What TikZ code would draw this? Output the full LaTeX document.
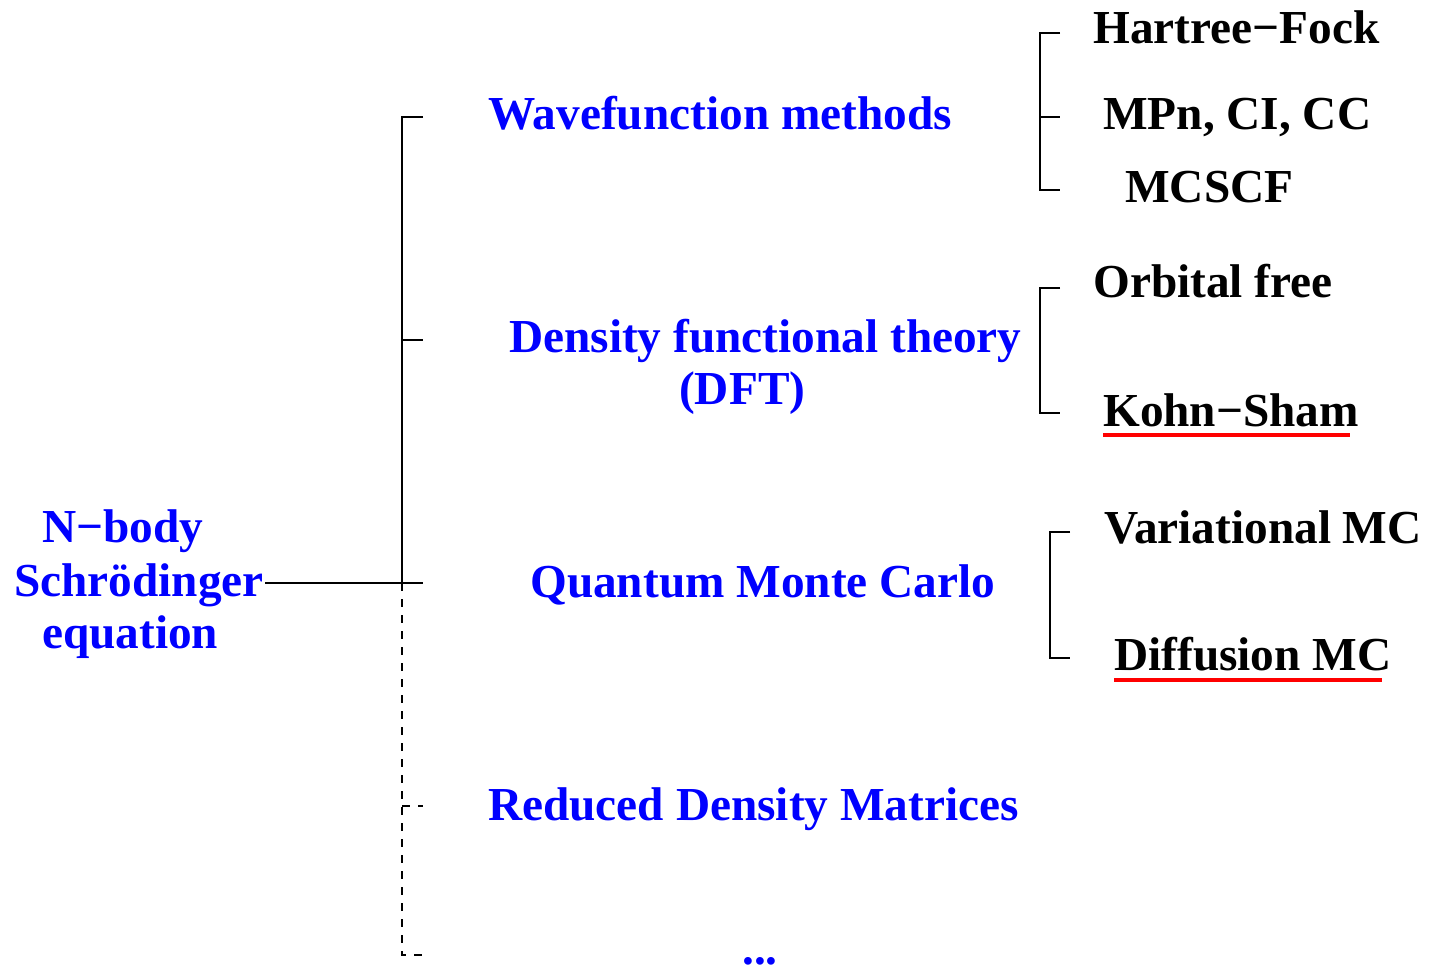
\documentclass[tikz,border=0pt]{standalone}
\usepackage{fontspec}
\setmainfont{Liberation Serif}
\begin{document}
\begin{tikzpicture}[x=1pt,y=-1pt,
  txt/.style={font=\fontsize{47.3}{47.3}\selectfont\bfseries, anchor=base west, inner sep=0pt},
  bl/.style={txt, text=blue},
  bk/.style={txt, text=black},
  ln/.style={line width=1.1pt, black},
  dl/.style={line width=1.1pt, black, dash pattern=on 8pt off 8pt},
  ul/.style={red, line width=3.5pt}]
\useasboundingbox (0,0) rectangle (1429,968);
% left text
\node[bl] (nb) at (42,542) {N−body};
\node[bl] (sch) at (14,596) {Schrödinger};
\node[bl] (eq) at (42,648) {equation};
% middle texts
\node[bl] (wf) at (488,130) {Wavefunction methods};
\node[bl] (dft) at (509,352) {Density functional theory};
\node[bl] (dft2) at (679,404) {(DFT)};
\node[bl] (qmc) at (530,597) {Quantum Monte Carlo};
\node[bl] (rdm) at (488,820) {Reduced Density Matrices};
\node[bl] (dots) at (742,964) {...};
% right texts
\node[bk] (hf) at (1093,44) {Hartree−Fock};
\node[bk] (mp) at (1103,130) {MPn, CI, CC};
\node[bk] (mc) at (1125,203) {MCSCF};
\node[bk] (of) at (1093,298) {Orbital free};
\node[bk] (ks) at (1103,426) {Kohn−Sham};
\node[bk] (vmc) at (1104,543) {Variational MC};
\node[bk] (dmc) at (1114,670) {Diffusion MC};
% underlines
\draw[ul] ([yshift=-9pt]ks.base west) -- ([xshift=-9pt,yshift=-9pt]ks.base east);
\draw[ul] ([yshift=-10pt]dmc.base west) -- ([xshift=-10pt,yshift=-10pt]dmc.base east);
% main tree
\coordinate (s0) at (265,583);
\coordinate (m1) at (402,117); \coordinate (e1) at (423,117);
\coordinate (m2) at (402,340); \coordinate (e2) at (423,340);
\coordinate (m3) at (402,583); \coordinate (e3) at (423,583);
\coordinate (m4) at (402,806); \coordinate (e4) at (423,806);
\coordinate (m5) at (402,955); \coordinate (e5) at (423,955);
\draw[ln] (s0) -- (e3);
\draw[ln] (e1) -- (m1) -- (m3);
\draw[ln] (m2) -- (e2);
\draw[dl] (m3) -- (m5) -- (e5);
\draw[dl] (m4) -- (e4);
% right brackets
\coordinate (a1) at (1040,33); \coordinate (b1) at (1060,33);
\coordinate (a2) at (1040,117); \coordinate (b2) at (1060,117);
\coordinate (a3) at (1040,190); \coordinate (b3) at (1060,190);
\draw[ln] (b1) -- (a1) -- (a3) -- (b3);
\draw[ln] (a2) -- (b2);
\coordinate (c1) at (1040,288); \coordinate (d1) at (1060,288);
\coordinate (c2) at (1040,413); \coordinate (d2) at (1060,413);
\draw[ln] (d1) -- (c1) -- (c2) -- (d2);
\coordinate (f1) at (1050,532); \coordinate (g1) at (1070,532);
\coordinate (f2) at (1050,658); \coordinate (g2) at (1070,658);
\draw[ln] (g1) -- (f1) -- (f2) -- (g2);
\end{tikzpicture}
\end{document}
